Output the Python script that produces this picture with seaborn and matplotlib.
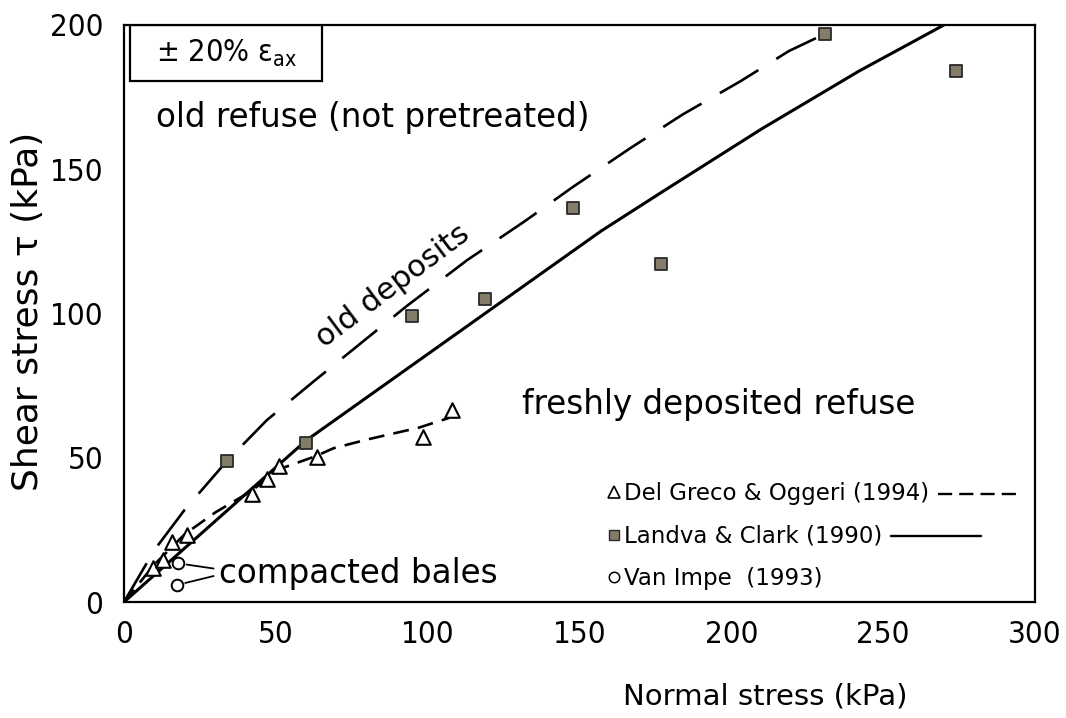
import matplotlib
matplotlib.use("Agg")
import matplotlib.pyplot as plt
import seaborn as sns
import numpy as np
from matplotlib import font_manager
from matplotlib.patches import Rectangle
from matplotlib.lines import Line2D

# ---------------- data ----------------
# Landva & Clark (1990) - squares
lc_x = [34, 60, 95, 119, 148, 177, 231, 274]
lc_y = [49, 55, 99, 105, 136.5, 117, 197, 184]
# Del Greco & Oggeri (1994) - triangles
dg_x = [9.5, 12.8, 15.7, 20.8, 42, 47, 51, 63.4, 98.6, 108]
dg_y = [11.7, 14.6, 20.9, 23.2, 37.4, 42.6, 47.2, 50.4, 57.3, 66.5]
# Van Impe (1993) - circles
vi_x = [17.9, 17.5]
vi_y = [13.4, 5.9]

# curve: old deposits (long dashes)
old_x = [0, 10, 20, 34, 47, 62.5, 76, 93, 113, 132, 148, 167, 184, 203, 219, 231]
old_y = [0, 18, 32, 49, 63, 76.5, 88, 102.5, 118.5, 132, 144, 157.5, 169, 180.5, 191, 197]
# curve: Landva & Clark (solid)
lcl_x = [0, 60, 157, 177, 210, 242, 270]
lcl_y = [0, 56, 128.5, 142, 164, 184, 200]
# curve: Del Greco & Oggeri (short dashes)
dgl_x = [0, 10, 20, 30, 42, 51, 63, 69, 80, 87, 97, 107]
dgl_y = [0, 13, 23.5, 31, 38.5, 46, 50.5, 53.3, 56.3, 58, 60.4, 63.8]

x_ticks = [0, 50, 100, 150, 200, 250, 300]
y_ticks = [0, 50, 100, 150, 200]

legend_labels = ["Del Greco & Oggeri (1994)", "Landva & Clark (1990)", "Van Impe  (1993)"]

# ---------------- style ----------------
sns.set_theme(style="white")
plt.rcParams["font.family"] = ["DejaVu Sans"]
for k in ["text.color", "axes.labelcolor", "xtick.color", "ytick.color", "axes.edgecolor"]:
    plt.rcParams[k] = "black"

# narrow font for tick numbers if available
names = {f.name for f in font_manager.fontManager.ttflist}
if "Liberation Sans Narrow" in names:
    narrow = dict(family="Liberation Sans Narrow", size=26)
else:
    narrow = dict(family="DejaVu Sans", stretch="condensed", size=22.5)

fig = plt.figure(figsize=(10.66, 7.18), dpi=100)
ax = fig.add_axes([124 / 1066, (718 - 602) / 718, (1035 - 124) / 1066, (602 - 25) / 718])

lw = 1.9
sq_face = "#827c69"

sns.lineplot(x=old_x, y=old_y, ax=ax, color="black", lw=lw, sort=False, estimator=None,
             linestyle=(0, (17, 8)))
sns.lineplot(x=lcl_x, y=lcl_y, ax=ax, color="black", lw=lw + 0.3, sort=False, estimator=None)
sns.lineplot(x=dgl_x, y=dgl_y, ax=ax, color="black", lw=lw, sort=False, estimator=None,
             linestyle=(0, (6, 3.5)))

sns.scatterplot(x=lc_x, y=lc_y, ax=ax, marker="s", s=78, color=sq_face,
                edgecolor="#2a2a2a", linewidth=1.3, zorder=5)
sns.scatterplot(x=dg_x, y=dg_y, ax=ax, marker="^", s=110, facecolor="white",
                edgecolor="black", linewidth=1.5, zorder=5)
sns.scatterplot(x=vi_x, y=vi_y, ax=ax, marker="o", s=70, facecolor="white",
                edgecolor="black", linewidth=1.4, zorder=5)

ax.set_xlim(0, 300)
ax.set_ylim(0, 200)
ax.set_xticks(x_ticks)
ax.set_yticks(y_ticks)
ax.tick_params(axis="both", direction="inout", length=16, width=1.3, colors="black")
ax.tick_params(axis="y", pad=7)
ax.tick_params(axis="x", pad=5)
for lab in ax.get_xticklabels() + ax.get_yticklabels():
    lab.set_family(narrow["family"])
    lab.set_size(narrow["size"])
    if "stretch" in narrow:
        lab.set_fontstretch(narrow["stretch"])
for sp in ax.spines.values():
    sp.set_visible(True)
    sp.set_color("black")
    sp.set_linewidth(1.6)

ax.set_xlabel("Normal stress (kPa)", fontsize=21)
ax.xaxis.set_label_coords(0.704, -0.14)
ax.set_ylabel("Shear stress τ (kPa)", fontsize=26)
ax.yaxis.set_label_coords(-0.087, 0.503)

# ---------------- annotations ----------------
ax.add_patch(Rectangle((0.007, 0.903), 0.21, 0.097, transform=ax.transAxes,
                       fill=False, edgecolor="black", lw=1.6, zorder=6))
ax.text(0.112, 0.951, "± 20% $\\mathregular{ε_{ax}}$", transform=ax.transAxes,
        ha="center", va="center", fontsize=22, fontstretch="condensed")

ax.text(10.5, 168, "old refuse (not pretreated)", fontsize=23.5, ha="left", va="center")
ax.text(131, 68.5, "freshly deposited refuse", fontsize=23.5, ha="left", va="center")
ax.text(88.5, 109.5, "old deposits", fontsize=22, ha="center", va="center", rotation=37,
        rotation_mode="anchor")
ax.text(31.3, 10, "compacted bales", fontsize=23.5, ha="left", va="center")
ax.annotate("", xy=(vi_x[0], vi_y[0]), xytext=(29.5, 11.6),
            arrowprops=dict(arrowstyle="-", color="black", lw=1.3, shrinkA=0, shrinkB=6))
ax.annotate("", xy=(vi_x[1], vi_y[1]), xytext=(29.5, 9.0),
            arrowprops=dict(arrowstyle="-", color="black", lw=1.3, shrinkA=0, shrinkB=6))

# ---------------- legend ----------------
handles = [
    Line2D([], [], ls="none", marker="^", ms=8.5, mfc="white", mec="black", mew=1.2),
    Line2D([], [], ls="none", marker="s", ms=7.5, mfc=sq_face, mec="#2a2a2a", mew=1.0),
    Line2D([], [], ls="none", marker="o", ms=7.5, mfc="white", mec="black", mew=1.1),
]
leg = ax.legend(handles, legend_labels, loc="lower left", bbox_to_anchor=(0.53, 0.02),
                frameon=False, fontsize=16.5, handlelength=0.6, handletextpad=0.15,
                labelspacing=0.86, borderpad=0, borderaxespad=0)

fig.canvas.draw()
renderer = fig.canvas.get_renderer()
styles = [dict(ls=(0, (6, 3)), length=82), dict(ls="-", length=90), None]
inv = fig.transFigure.inverted()
for txt, st in zip(leg.get_texts(), styles):
    if st is None:
        continue
    bb = txt.get_window_extent(renderer)
    x0 = bb.x1 + 9
    yc = (bb.y0 + bb.y1) / 2
    p0 = inv.transform((x0, yc))
    p1 = inv.transform((x0 + st["length"], yc))
    fig.add_artist(Line2D([p0[0], p1[0]], [p0[1], p1[1]], color="black", lw=1.7,
                          ls=st["ls"], transform=fig.transFigure))

fig.savefig("out.png", dpi=100)
